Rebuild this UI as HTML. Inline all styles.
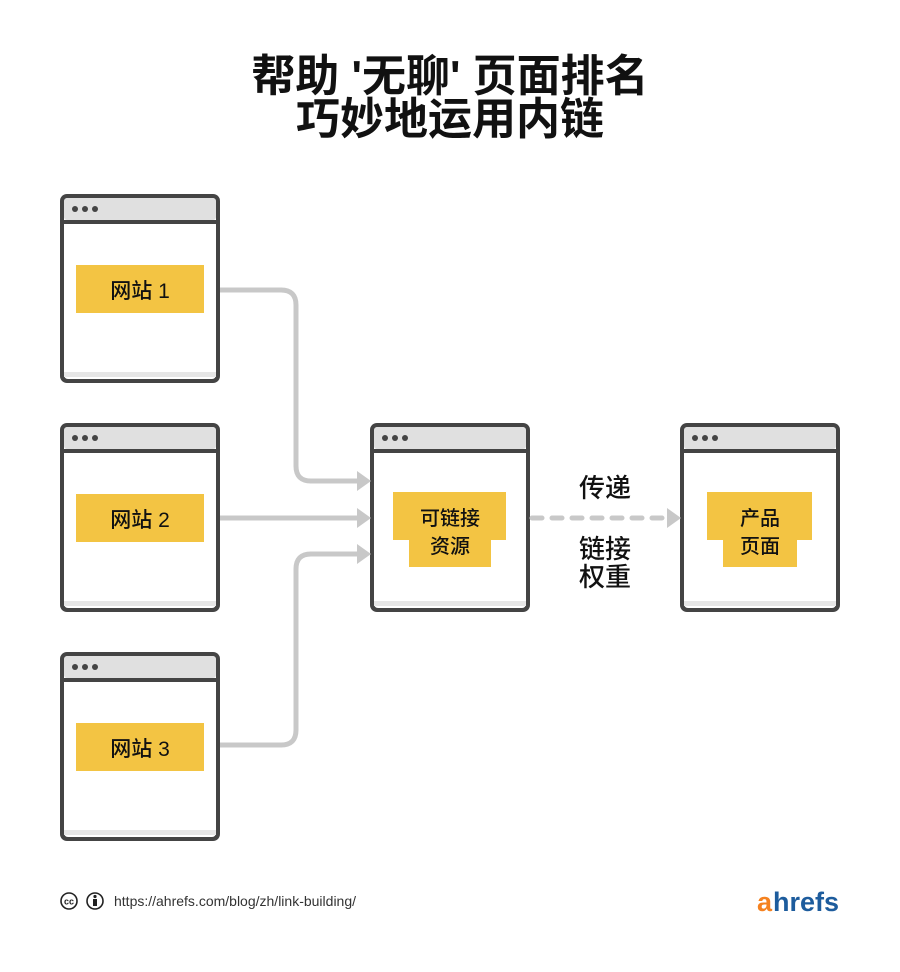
<!DOCTYPE html>
<html><head><meta charset="utf-8"><style>
html,body{margin:0;padding:0;background:#fff;}
svg{display:block}
text{font-family:"Liberation Sans","Noto Sans CJK SC",sans-serif;}
</style></head><body>
<svg width="900" height="972" viewBox="0 0 900 972" xmlns="http://www.w3.org/2000/svg">
<defs>
<g id="win">
  <rect x="0" y="0" width="160" height="189" rx="7" fill="#444"/>
  <rect x="4" y="4" width="152" height="181" rx="4" fill="#fff"/>
  <rect x="4" y="4" width="152" height="22" rx="3" fill="#e0e0e0"/>
  <rect x="4" y="26" width="152" height="4" fill="#444"/>
  <rect x="4" y="178" width="152" height="5" fill="#e6e6e6"/>
  <circle cx="15" cy="15" r="3" fill="#444"/>
  <circle cx="25" cy="15" r="3" fill="#444"/>
  <circle cx="35" cy="15" r="3" fill="#444"/>
</g>
</defs>
<text x="450" y="91" font-size="44" font-weight="bold" text-anchor="middle" fill="#111">帮助 '无聊' 页面排名</text>
<text x="450" y="134" font-size="44" font-weight="bold" text-anchor="middle" fill="#111">巧妙地运用内链</text>

<use href="#win" x="60" y="194"/>
<use href="#win" x="60" y="423"/>
<use href="#win" x="60" y="652"/>
<use href="#win" x="370" y="423"/>
<use href="#win" x="680" y="423"/>

<g font-weight="500" fill="#111" text-anchor="middle">
<rect x="76" y="265" width="128" height="48" fill="#f3c443"/>
<text x="140" y="298" font-size="21">网站 1</text>
<rect x="76" y="494" width="128" height="48" fill="#f3c443"/>
<text x="140" y="527" font-size="21">网站 2</text>
<rect x="76" y="723" width="128" height="48" fill="#f3c443"/>
<text x="140" y="756" font-size="21">网站 3</text>

<rect x="393" y="492" width="113" height="48" fill="#f3c443"/>
<rect x="409" y="530" width="82" height="37" fill="#f3c443"/>
<text x="450" y="525" font-size="20">可链接</text>
<text x="450" y="553" font-size="20">资源</text>

<rect x="707" y="492" width="105" height="48" fill="#f3c443"/>
<rect x="723" y="530" width="74" height="37" fill="#f3c443"/>
<text x="760" y="525" font-size="20">产品</text>
<text x="760" y="553" font-size="20">页面</text>

<text x="605" y="497" font-size="26">传递</text>
<text x="605" y="558" font-size="26">链接</text>
<text x="605" y="586" font-size="26">权重</text>
</g>

<g fill="none" stroke="#c8c8c8" stroke-width="5">
  <path d="M220 290 H281 Q296 290 296 305 V466 Q296 481 311 481 H360"/>
  <path d="M220 518 H360"/>
  <path d="M220 745 H281 Q296 745 296 730 V569 Q296 554 311 554 H360"/>
  <path d="M532 518 H664" stroke-dasharray="10 10" stroke-linecap="round"/>
</g>
<g fill="#c8c8c8">
  <polygon points="357,471 371,481 357,491"/>
  <polygon points="357,508 371,518 357,528"/>
  <polygon points="357,544 371,554 357,564"/>
  <polygon points="667,508 681,518 667,528"/>
</g>

<g fill="none" stroke="#222" stroke-width="1.6">
  <circle cx="69" cy="901" r="8"/>
  <circle cx="95" cy="901" r="8"/>
</g>
<text x="69" y="904.5" font-size="9" font-weight="bold" text-anchor="middle" fill="#222">cc</text>
<circle cx="95" cy="896.5" r="1.6" fill="#222"/>
<rect x="93" y="899" width="4" height="7" fill="#222"/>
<text x="114" y="906" font-size="14" fill="#333">https://ahrefs.com/blog/zh/link-building/</text>
<text x="757" y="911" font-size="27" font-weight="bold" fill="#f58220">a</text>
<text x="773" y="911" font-size="27" font-weight="bold" fill="#1d5c9d">hrefs</text>
</svg>
</body></html>
